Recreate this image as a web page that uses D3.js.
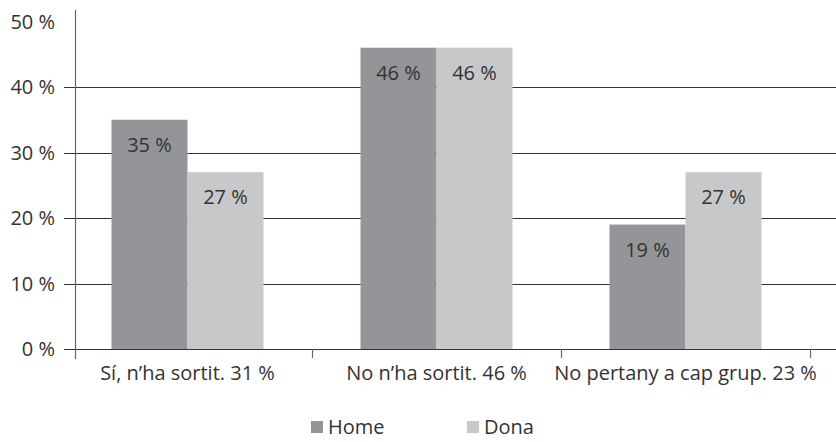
<!DOCTYPE html>
<html>
<head>
<meta charset="utf-8">
<script src="https://cdn.jsdelivr.net/npm/d3@7"></script>
<style>
  body { margin: 0; background: #fff; }
  svg text { font-family: "Open Sans", "Noto Sans", sans-serif; fill: #333; }
</style>
</head>
<body>
<svg width="836" height="442"></svg>
<script>
const categories = ['Sí, n\u2019ha sortit. 31 %', 'No n\u2019ha sortit. 46 %', 'No pertany a cap grup. 23 %'];
const seriesNames = ['Home', 'Dona'];
const home = [35, 46, 19];
const dona = [27, 46, 27];
const yTicks = [0, 10, 20, 30, 40, 50];
const colors = ['#939598', '#c7c8ca'];

const svg = d3.select('svg');
const fontSize = '20px';

const x = d3.scaleBand().domain(categories).range([63, 810]);
const x1 = d3.scaleBand().domain(seriesNames).range([x.bandwidth() / 2 - 76, x.bandwidth() / 2 + 76]);
const y = d3.scaleLinear().domain([0, 50]).range([349, 21.5]);

// gridlines (no line at 50)
svg.append('g')
  .selectAll('line')
  .data(yTicks.filter(d => d < 50))
  .enter()
  .append('line')
  .attr('x1', 64)
  .attr('x2', 836)
  .attr('y1', d => Math.round(y(d)) + 0.5)
  .attr('y2', d => Math.round(y(d)) + 0.5)
  .attr('stroke', '#333')
  .attr('stroke-width', 1.2);

// y tick labels
svg.append('g')
  .selectAll('text')
  .data(yTicks)
  .enter()
  .append('text')
  .attr('x', 55)
  .attr('y', d => y(d))
  .attr('dy', '0.35em')
  .attr('text-anchor', 'end')
  .style('font-size', fontSize)
  .text(d => d + ' %');

// bars
const rows = categories.map((c, i) => ({ cat: c, values: [home[i], dona[i]] }));
const groups = svg.append('g')
  .selectAll('g')
  .data(rows)
  .enter()
  .append('g')
  .attr('transform', d => 'translate(' + x(d.cat) + ',0)');

groups.selectAll('rect')
  .data(d => d.values.map((v, j) => ({ key: seriesNames[j], value: v, j: j })))
  .enter()
  .append('rect')
  .attr('x', d => x1(d.key))
  .attr('width', x1.bandwidth())
  .attr('y', d => y(d.value))
  .attr('height', d => y(0) - y(d.value))
  .attr('fill', d => colors[d.j]);

groups.selectAll('text')
  .data(d => d.values.map((v, j) => ({ key: seriesNames[j], value: v })))
  .enter()
  .append('text')
  .attr('x', d => x1(d.key) + x1.bandwidth() / 2)
  .attr('y', d => y(d.value) + 32)
  .attr('text-anchor', 'middle')
  .style('font-size', fontSize)
  .text(d => d.value + ' %');

// y axis line
svg.append('line')
  .attr('x1', 75.5).attr('x2', 75.5)
  .attr('y1', 10).attr('y2', 359)
  .attr('stroke', '#666')
  .attr('stroke-width', 1.2);

// x category ticks
svg.append('g')
  .selectAll('line')
  .data(categories)
  .enter()
  .append('line')
  .attr('x1', d => Math.round(x(d) + x.bandwidth()) + 0.5)
  .attr('x2', d => Math.round(x(d) + x.bandwidth()) + 0.5)
  .attr('y1', 349)
  .attr('y2', 358)
  .attr('stroke', '#666')
  .attr('stroke-width', 1.2);

// category labels
svg.append('g')
  .selectAll('text')
  .data(categories)
  .enter()
  .append('text')
  .attr('x', d => x(d) + x.bandwidth() / 2)
  .attr('y', 373)
  .attr('dy', '0.35em')
  .attr('text-anchor', 'middle')
  .style('font-size', fontSize)
  .text(d => d);

// legend
const legend = svg.append('g')
  .selectAll('g')
  .data(seriesNames)
  .enter()
  .append('g')
  .attr('transform', (d, i) => 'translate(' + (311 + i * 156) + ',421)');

legend.append('rect')
  .attr('width', 12)
  .attr('height', 12)
  .attr('fill', (d, i) => colors[i]);

legend.append('text')
  .attr('x', 17)
  .attr('y', 6)
  .attr('dy', '0.35em')
  .style('font-size', fontSize)
  .text(d => d);
</script>
</body>
</html>
